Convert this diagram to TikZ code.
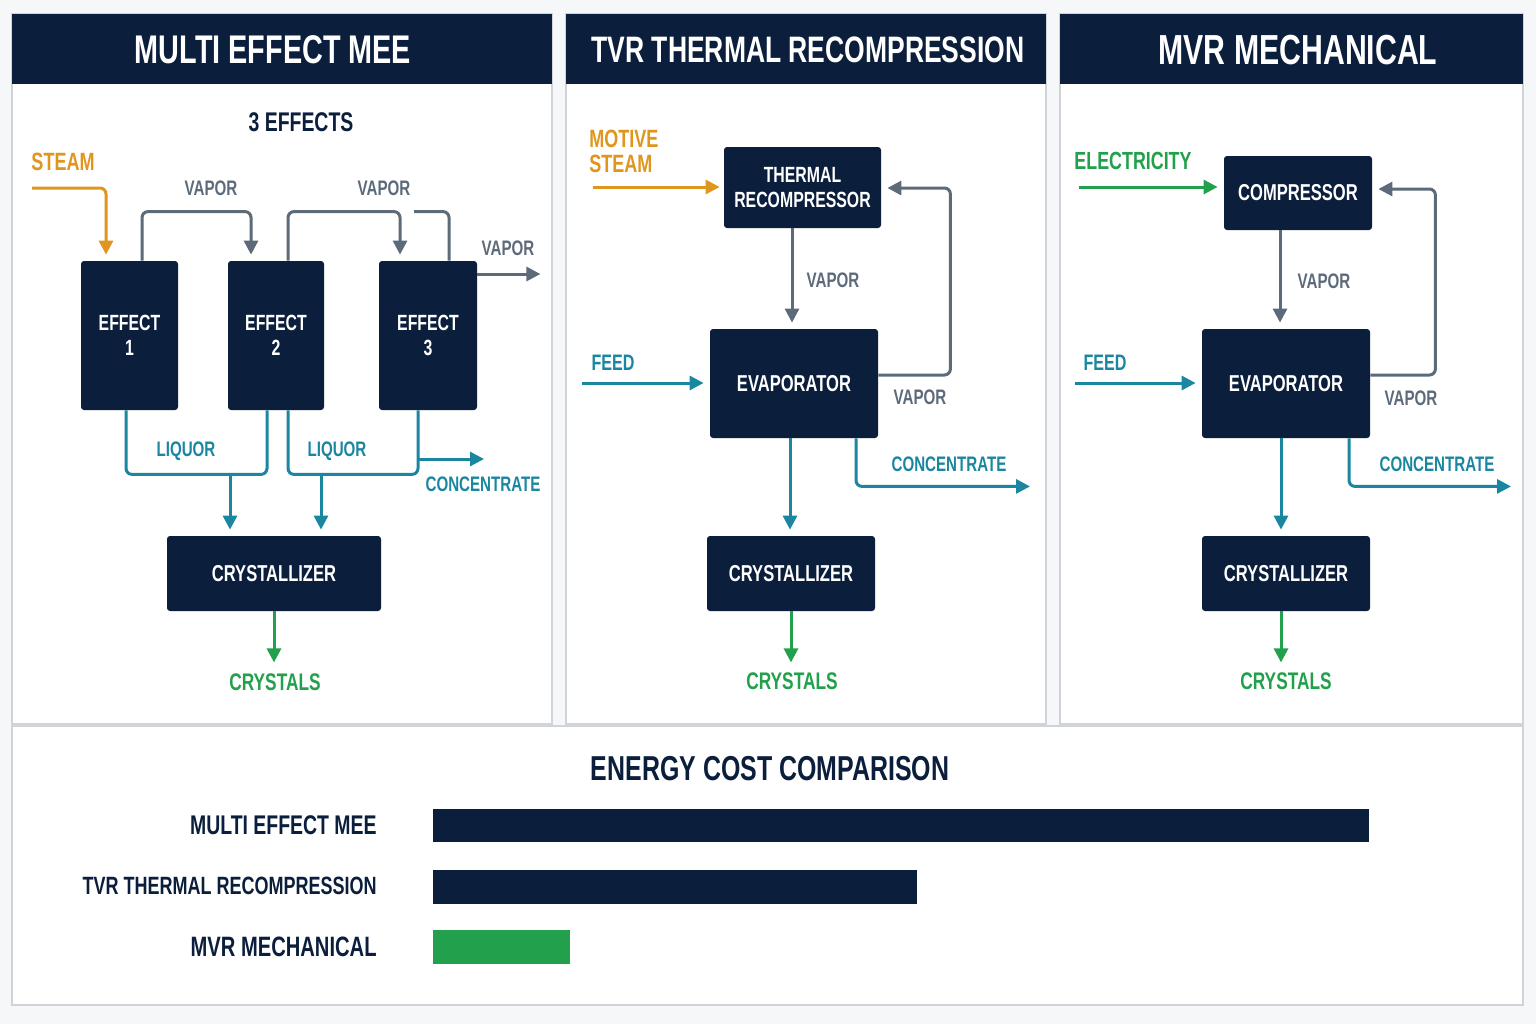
\documentclass[tikz,border=0pt]{standalone}
\usepackage{fontspec}
\setmainfont{Liberation Sans}[FakeStretch=0.72]
\usetikzlibrary{arrows.meta}
\definecolor{navy}{RGB}{11,31,61}
\definecolor{tealc}{RGB}{26,134,160}
\definecolor{vapc}{RGB}{92,106,122}
\definecolor{steamc}{RGB}{224,150,30}
\definecolor{greenc}{RGB}{34,160,75}
\definecolor{rulec}{RGB}{208,212,217}
\definecolor{pagec}{RGB}{246,247,249}
\tikzset{
  unit/.style={fill=navy, rounded corners=1.5pt, text=white, align=center, inner sep=0pt,
    font=\bfseries\fontsize{11.5}{13}\selectfont},
  lbl/.style={inner sep=0pt, align=center, font=\bfseries\fontsize{10.5}{12}\selectfont},
  line/.style={line width=1.5pt, rounded corners=3pt},
  flow/.style={line, -{Triangle[length=7pt,width=7pt]}},
  tobox/.style={flow, shorten >=3pt},
  panel/.style={draw=rulec, line width=0.6pt, fill=white},
  head/.style={fill=navy, text=white, inner sep=0pt, font=\bfseries\fontsize{21}{24}\selectfont}
}
\begin{document}
\begin{tikzpicture}[x=0.5pt,y=0.5pt,yscale=-1,xscale=1]
\useasboundingbox (0,0) rectangle (1536,1024);
\fill[pagec] (0,0) rectangle (1536,1024);

%Shape: Panels
\draw[panel] (12,14) rectangle (552,724);
\draw[panel] (566,14) rectangle (1046,724);
\draw[panel] (1060,14) rectangle (1523,724);
\draw[panel] (12,726) rectangle (1523,1005);
\fill[navy] (12,14) rectangle (552,84);
\fill[navy] (566,14) rectangle (1046,84);
\fill[navy] (1060,14) rectangle (1523,84);

% Text Node
\node[head, font=\bfseries\fontsize{20}{24}\selectfont] (h1) at (273,50) {MULTI EFFECT MEE};
\node[head, font=\bfseries\fontsize{18.4}{24}\selectfont] (h2) at (808,50) {TVR THERMAL RECOMPRESSION};
\node[head] (h3) at (1298,50) {MVR MECHANICAL};

%%%%% Multi effect
\node[lbl, text=navy, font=\bfseries\fontsize{13.5}{15}\selectfont] (n3) at (301,122) {3 EFFECTS};
\node[unit, minimum width=48.5pt, minimum height=74.5pt, font=\bfseries\fontsize{11}{12.5}\selectfont] (e1) at (129.5,335.5) {EFFECT\\1};
\node[unit, minimum width=48pt, minimum height=74.5pt, font=\bfseries\fontsize{11}{12.5}\selectfont] (e2) at (276,335.5) {EFFECT\\2};
\node[unit, minimum width=49pt, minimum height=74.5pt, font=\bfseries\fontsize{11}{12.5}\selectfont] (e3) at (428,335.5) {EFFECT\\3};
\node[unit, minimum width=107pt, minimum height=37.5pt] (cr1) at (274,573.5) {CRYSTALLIZER};
\coordinate (st) at (32,188);
\coordinate (cc1) at (418,459);

\draw[tobox, steamc] (st) -| (e1.north -| 106,0);
\draw[tobox, vapc] (e1.north -| 142,0) -- ++(0,-49) -| (e2.north -| 251,0);
\draw[tobox, vapc] (e2.north -| 288,0) -- ++(0,-49) -| (e3.north -| 400,0);
\draw[line, vapc] (e3.north -| 449,0) -- ++(0,-49) -- ++(-35,0);
\draw[flow, vapc] (e3.east |- 0,274) -- ++(63,0);
\draw[line, tealc] (e1.south -| 126,0) -- ++(0,64) -| (e2.south -| 267,0);
\draw[line, tealc] (e2.south -| 288,0) -- ++(0,64) -| (e3.south -| 418,0);
\draw[tobox, tealc] (230,474) -- (cr1.north -| 230,0);
\draw[tobox, tealc] (321,474) -- (cr1.north -| 321,0);
\draw[flow, tealc] (cc1) -- ++(66,0);
\draw[flow, greenc] (cr1.south) -- ++(0,51);

% Text Node
\node[lbl, text=steamc, font=\bfseries\fontsize{12.5}{14}\selectfont] (l1) at (63,162) {STEAM};
\node[lbl, text=vapc] (l2) at (211,188) {VAPOR};
\node[lbl, text=vapc] (l3) at (384,188) {VAPOR};
\node[lbl, text=vapc] (l4) at (508,248) {VAPOR};
\node[lbl, text=tealc] (l5) at (186,451) {LIQUOR};
\node[lbl, text=tealc] (l6) at (337,451) {LIQUOR};
\node[lbl, text=tealc] (l7) at (483,484) {CONCENTRATE};
\node[lbl, text=greenc, font=\bfseries\fontsize{12}{14}\selectfont] (l8) at (275,682) {CRYSTALS};

%%%%% TVR
\node[unit, minimum width=78.5pt, minimum height=40.5pt, font=\bfseries\fontsize{11}{12.5}\selectfont] (tr) at (802.5,187.5) {THERMAL\\RECOMPRESSOR};
\node[unit, minimum width=84pt, minimum height=54.5pt] (ev2) at (794,383.5) {EVAPORATOR};
\node[unit, minimum width=84pt, minimum height=37.5pt] (cr2) at (791,573.5) {CRYSTALLIZER};
\coordinate (ms) at (593,187);
\coordinate (fd2) at (582,383);

\draw[flow, steamc, shorten >=2pt] (ms) -- (tr.west |- ms);
\draw[tobox, vapc] (tr.south -| 792,0) -- (ev2.north -| 792,0);
\draw[flow, tealc, shorten >=3pt] (fd2) -- (ev2.west |- fd2);
\draw[tobox, vapc] (ev2.east |- 0,375) -- ++(72,0) |- (tr.east |- 0,188);
\draw[tobox, tealc] (ev2.south -| 790,0) -- (cr2.north -| 790,0);
\draw[flow, tealc] (ev2.south -| 856,0) |- ++(174,48);
\draw[flow, greenc] (cr2.south) -- ++(0,51);

% Text Node
\node[lbl, text=steamc, anchor=west, align=left, font=\bfseries\fontsize{12.5}{12.5}\selectfont] (m1) at (589,151) {MOTIVE\\STEAM};
\node[lbl, text=vapc] (m2) at (833,280) {VAPOR};
\node[lbl, text=vapc] (m3) at (920,397) {VAPOR};
\node[lbl, text=tealc, font=\bfseries\fontsize{11.2}{13}\selectfont] (m4) at (613,363) {FEED};
\node[lbl, text=tealc] (m5) at (949,464) {CONCENTRATE};
\node[lbl, text=greenc, font=\bfseries\fontsize{12}{14}\selectfont] (m6) at (792,681) {CRYSTALS};

%%%%% MVR
\node[unit, minimum width=74pt, minimum height=37pt, font=\bfseries\fontsize{11.5}{13}\selectfont] (co) at (1298,193) {COMPRESSOR};
\node[unit, minimum width=84pt, minimum height=54.5pt] (ev3) at (1286,383.5) {EVAPORATOR};
\node[unit, minimum width=84pt, minimum height=37.5pt] (cr3) at (1286,573.5) {CRYSTALLIZER};
\coordinate (el) at (1079,187);
\coordinate (fd3) at (1075,383);

\draw[flow, greenc, shorten >=3pt] (el) -- (co.west |- el);
\draw[tobox, vapc] (co.south -| 1280,0) -- (ev3.north -| 1280,0);
\draw[flow, tealc, shorten >=3pt] (fd3) -- (ev3.west |- fd3);
\draw[tobox, vapc] (ev3.east |- 0,375) -- ++(65,0) |- (co.east |- 0,189);
\draw[tobox, tealc] (ev3.south -| 1281,0) -- (cr3.north -| 1281,0);
\draw[flow, tealc] (ev3.south -| 1349,0) |- ++(162,48);
\draw[flow, greenc] (cr3.south -| 1281,0) -- ++(0,51);

% Text Node
\node[lbl, text=greenc, font=\bfseries\fontsize{12.4}{14}\selectfont] (r1) at (1133,161) {ELECTRICITY};
\node[lbl, text=vapc] (r2) at (1324,281) {VAPOR};
\node[lbl, text=vapc] (r3) at (1411,398) {VAPOR};
\node[lbl, text=tealc, font=\bfseries\fontsize{11.2}{13}\selectfont] (r4) at (1105,363) {FEED};
\node[lbl, text=tealc] (r5) at (1437,464) {CONCENTRATE};
\node[lbl, text=greenc, font=\bfseries\fontsize{12}{14}\selectfont] (r6) at (1286,681) {CRYSTALS};

%%%%% Energy cost
\node[lbl, text=navy, font=\bfseries\fontsize{17.3}{20}\selectfont] (ec) at (770,769) {ENERGY COST COMPARISON};
\node[lbl, text=navy, anchor=east, font=\bfseries\fontsize{13.5}{15}\selectfont] (b1) at (377,825) {MULTI EFFECT MEE};
\node[lbl, text=navy, anchor=east, font=\bfseries\fontsize{12.5}{15}\selectfont] (b2) at (377,886) {TVR THERMAL RECOMPRESSION};
\node[lbl, text=navy, anchor=east, font=\bfseries\fontsize{14}{15}\selectfont] (b3) at (377,947) {MVR MECHANICAL};
%Shape: Bars
\fill[navy] (433,809) rectangle (1369,842);
\fill[navy] (433,870) rectangle (917,904);
\fill[greenc] (433,930) rectangle (570,964);

\end{tikzpicture}
\end{document}
